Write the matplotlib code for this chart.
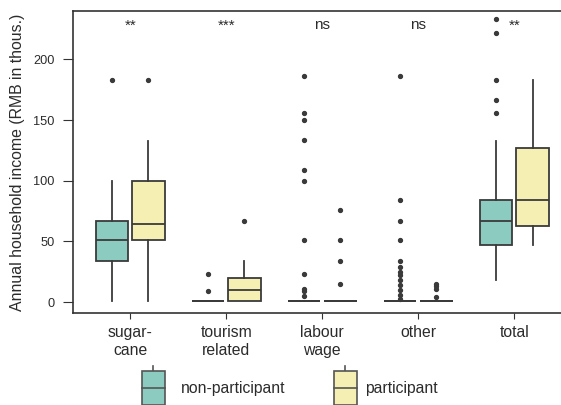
import matplotlib
matplotlib.use("Agg")
import matplotlib.pyplot as plt
from matplotlib.legend_handler import HandlerBase
from matplotlib.patches import Rectangle
from matplotlib.lines import Line2D

plt.rcParams['font.family'] = ['Liberation Sans', 'DejaVu Sans']

categories = ["sugar-\ncane", "tourism\nrelated", "labour\nwage", "other", "total"]
groups = ["non-participant", "participant"]
signif = ["**", "***", "ns", "ns", "**"]

# box statistics per category (thous. RMB)
np_whislo = [1, 1, 1, 1, 18]
np_q1 = [34, 1, 1, 1, 47]
np_med = [51, 1, 1, 1, 67]
np_q3 = [67, 1, 1, 1, 84]
np_whishi = [100, 1, 1, 1, 133]
np_fliers = [
    [183],
    [23, 9],
    [186, 156, 150, 134, 109, 100, 51, 23, 11, 9, 5],
    [186, 84, 67, 51, 34, 29, 25, 22, 18, 14, 10, 6, 3],
    [233, 222, 183, 167, 156],
]

p_whislo = [1, 1, 1, 1, 47]
p_q1 = [51, 1, 1, 1, 63]
p_med = [64, 10, 1, 1, 84]
p_q3 = [100, 20, 1, 1, 127]
p_whishi = [133, 34, 1, 1, 183]
p_fliers = [
    [183],
    [67],
    [76, 51, 34, 15],
    [15, 13, 11, 4],
    [],
]

colors = ["#8ccbc0", "#f5efb3"]
edge = "#3a3a3a"
text_col = "#2b2b2b"


def make_stats(lo, q1, med, q3, hi, fl):
    return [dict(whislo=a, q1=b, med=c, q3=d, whishi=e, fliers=f)
            for a, b, c, d, e, f in zip(lo, q1, med, q3, hi, fl)]


fig = plt.figure(figsize=(5.61, 4.05), dpi=100)
ax = fig.add_axes([0.1294, 0.227, 0.89, 0.746])

series = [
    make_stats(np_whislo, np_q1, np_med, np_q3, np_whishi, np_fliers),
    make_stats(p_whislo, p_q1, p_med, p_q3, p_whishi, p_fliers),
]
offsets = [-0.19, 0.19]
for stats, off, col in zip(series, offsets, colors):
    pos = [i + off for i in range(len(categories))]
    ax.bxp(stats, positions=pos, widths=0.34, patch_artist=True, showcaps=False,
           boxprops=dict(facecolor=col, edgecolor=edge, linewidth=1.3),
           medianprops=dict(color=edge, linewidth=1.3),
           whiskerprops=dict(color=edge, linewidth=1.3),
           flierprops=dict(marker="o", markerfacecolor=edge, markeredgecolor=edge,
                           markersize=2.8, linestyle="none"))

for i, s in enumerate(signif):
    ax.text(i, 228, s, ha="center", va="center", fontsize=11, color=text_col)

ax.set_xlim(-0.6, 4.6)
ax.set_ylim(-9, 240)
ax.set_xticks(range(len(categories)))
ax.set_xticklabels(categories, fontsize=11.3, color=text_col, linespacing=1.3)
ax.set_yticks([0, 50, 100, 150, 200])
ax.tick_params(axis="y", labelsize=9.2, labelcolor=text_col, length=7,
               color="#333333", pad=6)
ax.tick_params(axis="x", length=4.5, color="#333333", pad=4)
ax.set_ylabel("Annual household income (RMB in thous.)", fontsize=11.4,
              color=text_col, labelpad=6)
ax.spines["right"].set_visible(False)
for sp in ["left", "bottom", "top"]:
    ax.spines[sp].set_color("#333333")
    ax.spines[sp].set_linewidth(1.2)


class BoxHandler(HandlerBase):
    # small box-and-whisker glyph for the legend
    def __init__(self, color):
        super().__init__()
        self.color = color

    def create_artists(self, legend, orig_handle, xdescent, ydescent,
                       width, height, fontsize, trans):
        cx = -xdescent + width / 2
        bw = 16.5
        bh = 24
        y0 = -ydescent + height / 2 - bh / 2
        box = Rectangle((cx - bw / 2, y0), bw, bh, facecolor=self.color,
                        edgecolor="#555555", linewidth=1.2, transform=trans)
        med = Line2D([cx - bw / 2, cx + bw / 2], [y0 + bh / 2] * 2,
                     color="#555555", linewidth=1.2, transform=trans)
        wtop = Line2D([cx, cx], [y0 + bh, y0 + bh + 4], color="#555555",
                      linewidth=1.2, transform=trans)
        wbot = Line2D([cx, cx], [y0, y0 - 4], color="#555555",
                      linewidth=1.2, transform=trans)
        return [wtop, wbot, box, med]


# one legend entry per group, placed side by side under the axes
anchors = [(142 / 561, 0.042), (334 / 561, 0.042)]
pads = [1.02, 0.55]
for name, col, anchor, pad in zip(groups, colors, anchors, pads):
    h = Rectangle((0, 0), 1, 1)
    fig.legend([h], [name], loc="center left", bbox_to_anchor=anchor,
               frameon=False, fontsize=11.3, handlelength=1.46, handleheight=1.2,
               handletextpad=pad, borderpad=0, borderaxespad=0,
               handler_map={h: BoxHandler(col)}, labelcolor=text_col)

fig.savefig("out.png", dpi=100)
